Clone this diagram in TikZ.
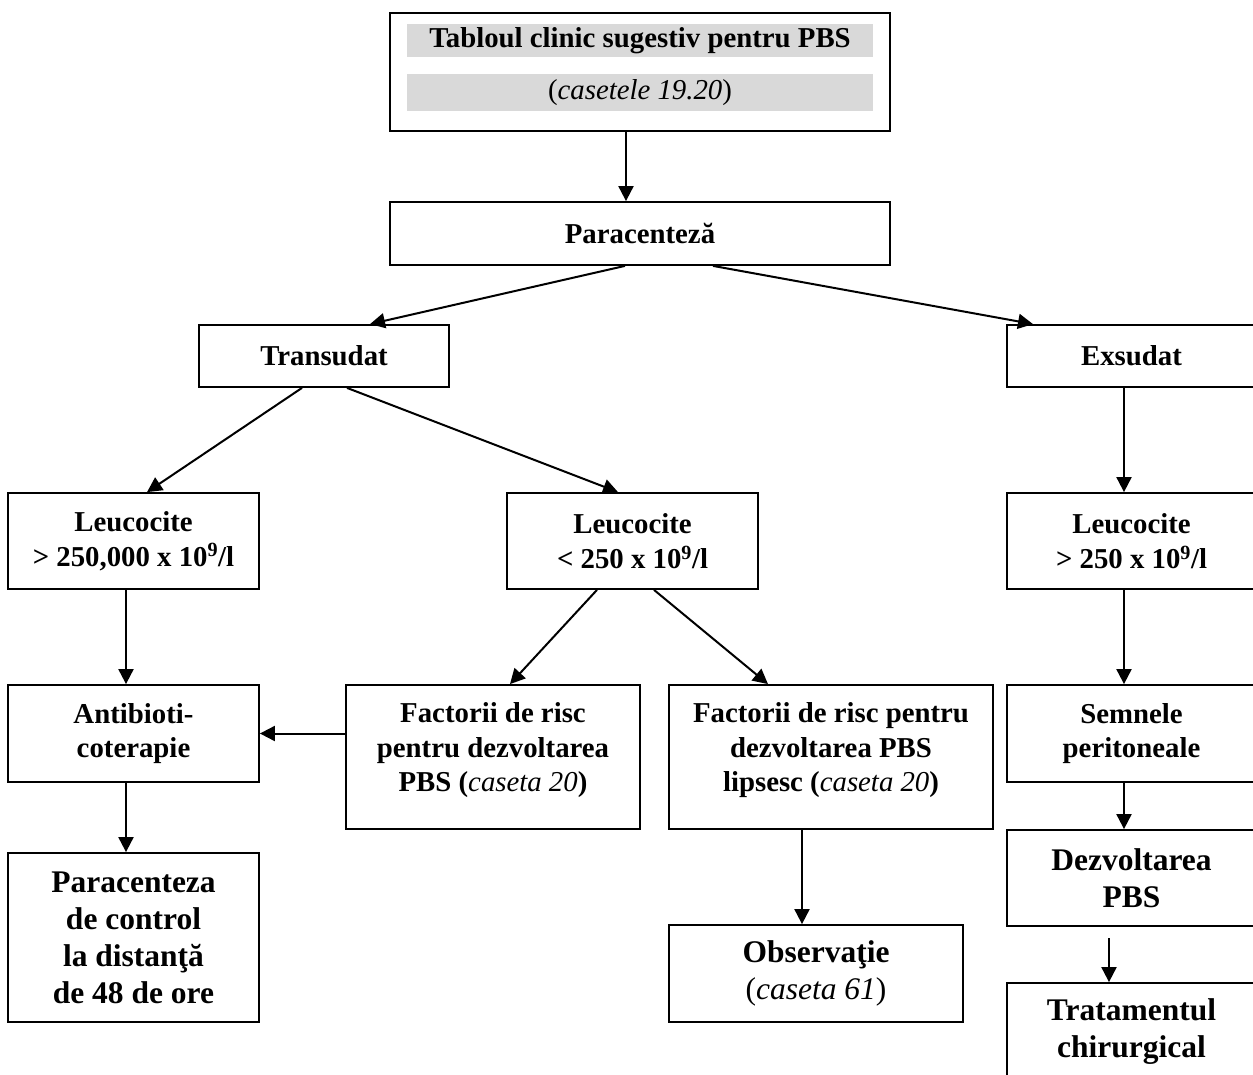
\documentclass[tikz,border=0pt]{standalone}
\usepackage{fontspec}
\setmainfont{Liberation Serif}
\usetikzlibrary{arrows.meta}
\definecolor{bandgrey}{RGB}{217,217,217}
\begin{document}
\begin{tikzpicture}[x=1pt,y=-1pt,
  box/.style={draw=black,line width=1.8pt,rectangle,inner sep=0pt,align=center,
    font=\fontsize{28.8}{34.5}\selectfont\bfseries},
  bigbox/.style={box,font=\fontsize{31.5}{37}\selectfont\bfseries},
  band/.style={fill=bandgrey,inner sep=0pt,minimum width=466pt,
    font=\fontsize{28.8}{34.5}\selectfont\bfseries},
  arr/.style={line width=2pt,-{Triangle[length=15pt,width=15pt]}}
]
\fill[white] (0,0) rectangle (1253,1075);
\useasboundingbox (0,0) rectangle (1253,1075);
\clip (0,0) rectangle (1253,1075);

% top box
\node[box,minimum width=500pt,minimum height=118pt] (top) at (640,72) {};
\node[band,minimum height=33pt] (b1) at (640,40.5) {Tabloul clinic sugestiv pentru PBS};
\node[band,minimum height=37pt] (b2) at (640,92.5) {\mdseries(\textit{casetele 19.20})};

\node[box,minimum width=500pt,minimum height=63pt] (par) at (640,233.5) {Paracenteză};
\node[box,minimum width=250pt,minimum height=62pt] (trans) at (324,356) {Transudat};
\node[box,minimum width=249pt,minimum height=62pt] (exs) at (1131.5,356) {Exsudat};

\node[box,minimum width=251pt,minimum height=96pt] (leu1) at (133.5,541) {Leucocite\\> 250,000 x 10\textsuperscript{9}/l};
\node[box,minimum width=251pt,minimum height=96pt] (leu2) at (632.5,541) {Leucocite\\< 250 x 10\textsuperscript{9}/l};
\node[box,minimum width=249pt,minimum height=96pt] (leu3) at (1131.5,541) {Leucocite\\> 250 x 10\textsuperscript{9}/l};

\node[box,minimum width=251pt,minimum height=97pt] (anti) at (133.5,733.5) {Antibioti-\\coterapie};
\node[box,minimum width=294pt,minimum height=144pt,text depth=19pt] (fac1) at (493,757) {Factorii de risc\\pentru dezvoltarea\\PBS (\textit{\mdseries caseta 20})};
\node[box,minimum width=324pt,minimum height=144pt,text depth=19pt] (fac2) at (831,757) {Factorii de risc pentru\\dezvoltarea PBS\\lipsesc (\textit{\mdseries caseta 20})};
\node[box,minimum width=249pt,minimum height=97pt] (sem) at (1131.5,733.5) {Semnele\\peritoneale};

\node[bigbox,minimum width=251pt,minimum height=169pt] (pc) at (133.5,937.5) {Paracenteza\\de control\\la distanţă\\de 48 de ore};
\node[bigbox,minimum width=294pt,minimum height=97pt] (obs) at (816,973.5) {Observaţie\\{\mdseries(\textit{caseta 61})}};
\node[bigbox,minimum width=249pt,minimum height=96pt] (dez) at (1131.5,878) {Dezvoltarea\\PBS};
\node[bigbox,minimum width=249pt,minimum height=97pt] (trat) at (1131.5,1031.5) {Tratamentul\\chirurgical};

% connectors
\draw[arr] ([xshift=-14pt]top.south) -- ([xshift=-14pt]par.north);
\draw[arr] ([xshift=-15pt]par.south) -- ([xshift=46pt]trans.north);
\draw[arr] ([xshift=73pt]par.south) -- ([xshift=-98.5pt]exs.north);
\draw[arr] ([xshift=-22pt]trans.south) -- ([xshift=13.5pt]leu1.north);
\draw[arr] ([xshift=23pt]trans.south) -- ([xshift=-14.5pt]leu2.north);
\draw[arr] ([xshift=-7.5pt]exs.south) -- ([xshift=-7.5pt]leu3.north);
\draw[arr] ([xshift=-7.5pt]leu1.south) -- ([xshift=-7.5pt]anti.north);
\draw[arr] ([xshift=-35.5pt]leu2.south) -- ([xshift=17pt]fac1.north);
\draw[arr] ([xshift=21.5pt]leu2.south) -- ([xshift=-63pt]fac2.north);
\draw[arr] (fac1.west |- anti.east) -- (anti.east);
\draw[arr] ([xshift=-7.5pt]anti.south) -- ([xshift=-7.5pt]pc.north);
\draw[arr] ([xshift=-29pt]fac2.south) -- ([xshift=-14pt]obs.north);
\draw[arr] ([xshift=-7.5pt]leu3.south) -- ([xshift=-7.5pt]sem.north);
\draw[arr] ([xshift=-7.5pt]sem.south) -- ([xshift=-7.5pt]dez.north);
\coordinate (dzt) at (1109,938);
\draw[arr] (dzt) -- (dzt |- trat.north);
\end{tikzpicture}
\end{document}
